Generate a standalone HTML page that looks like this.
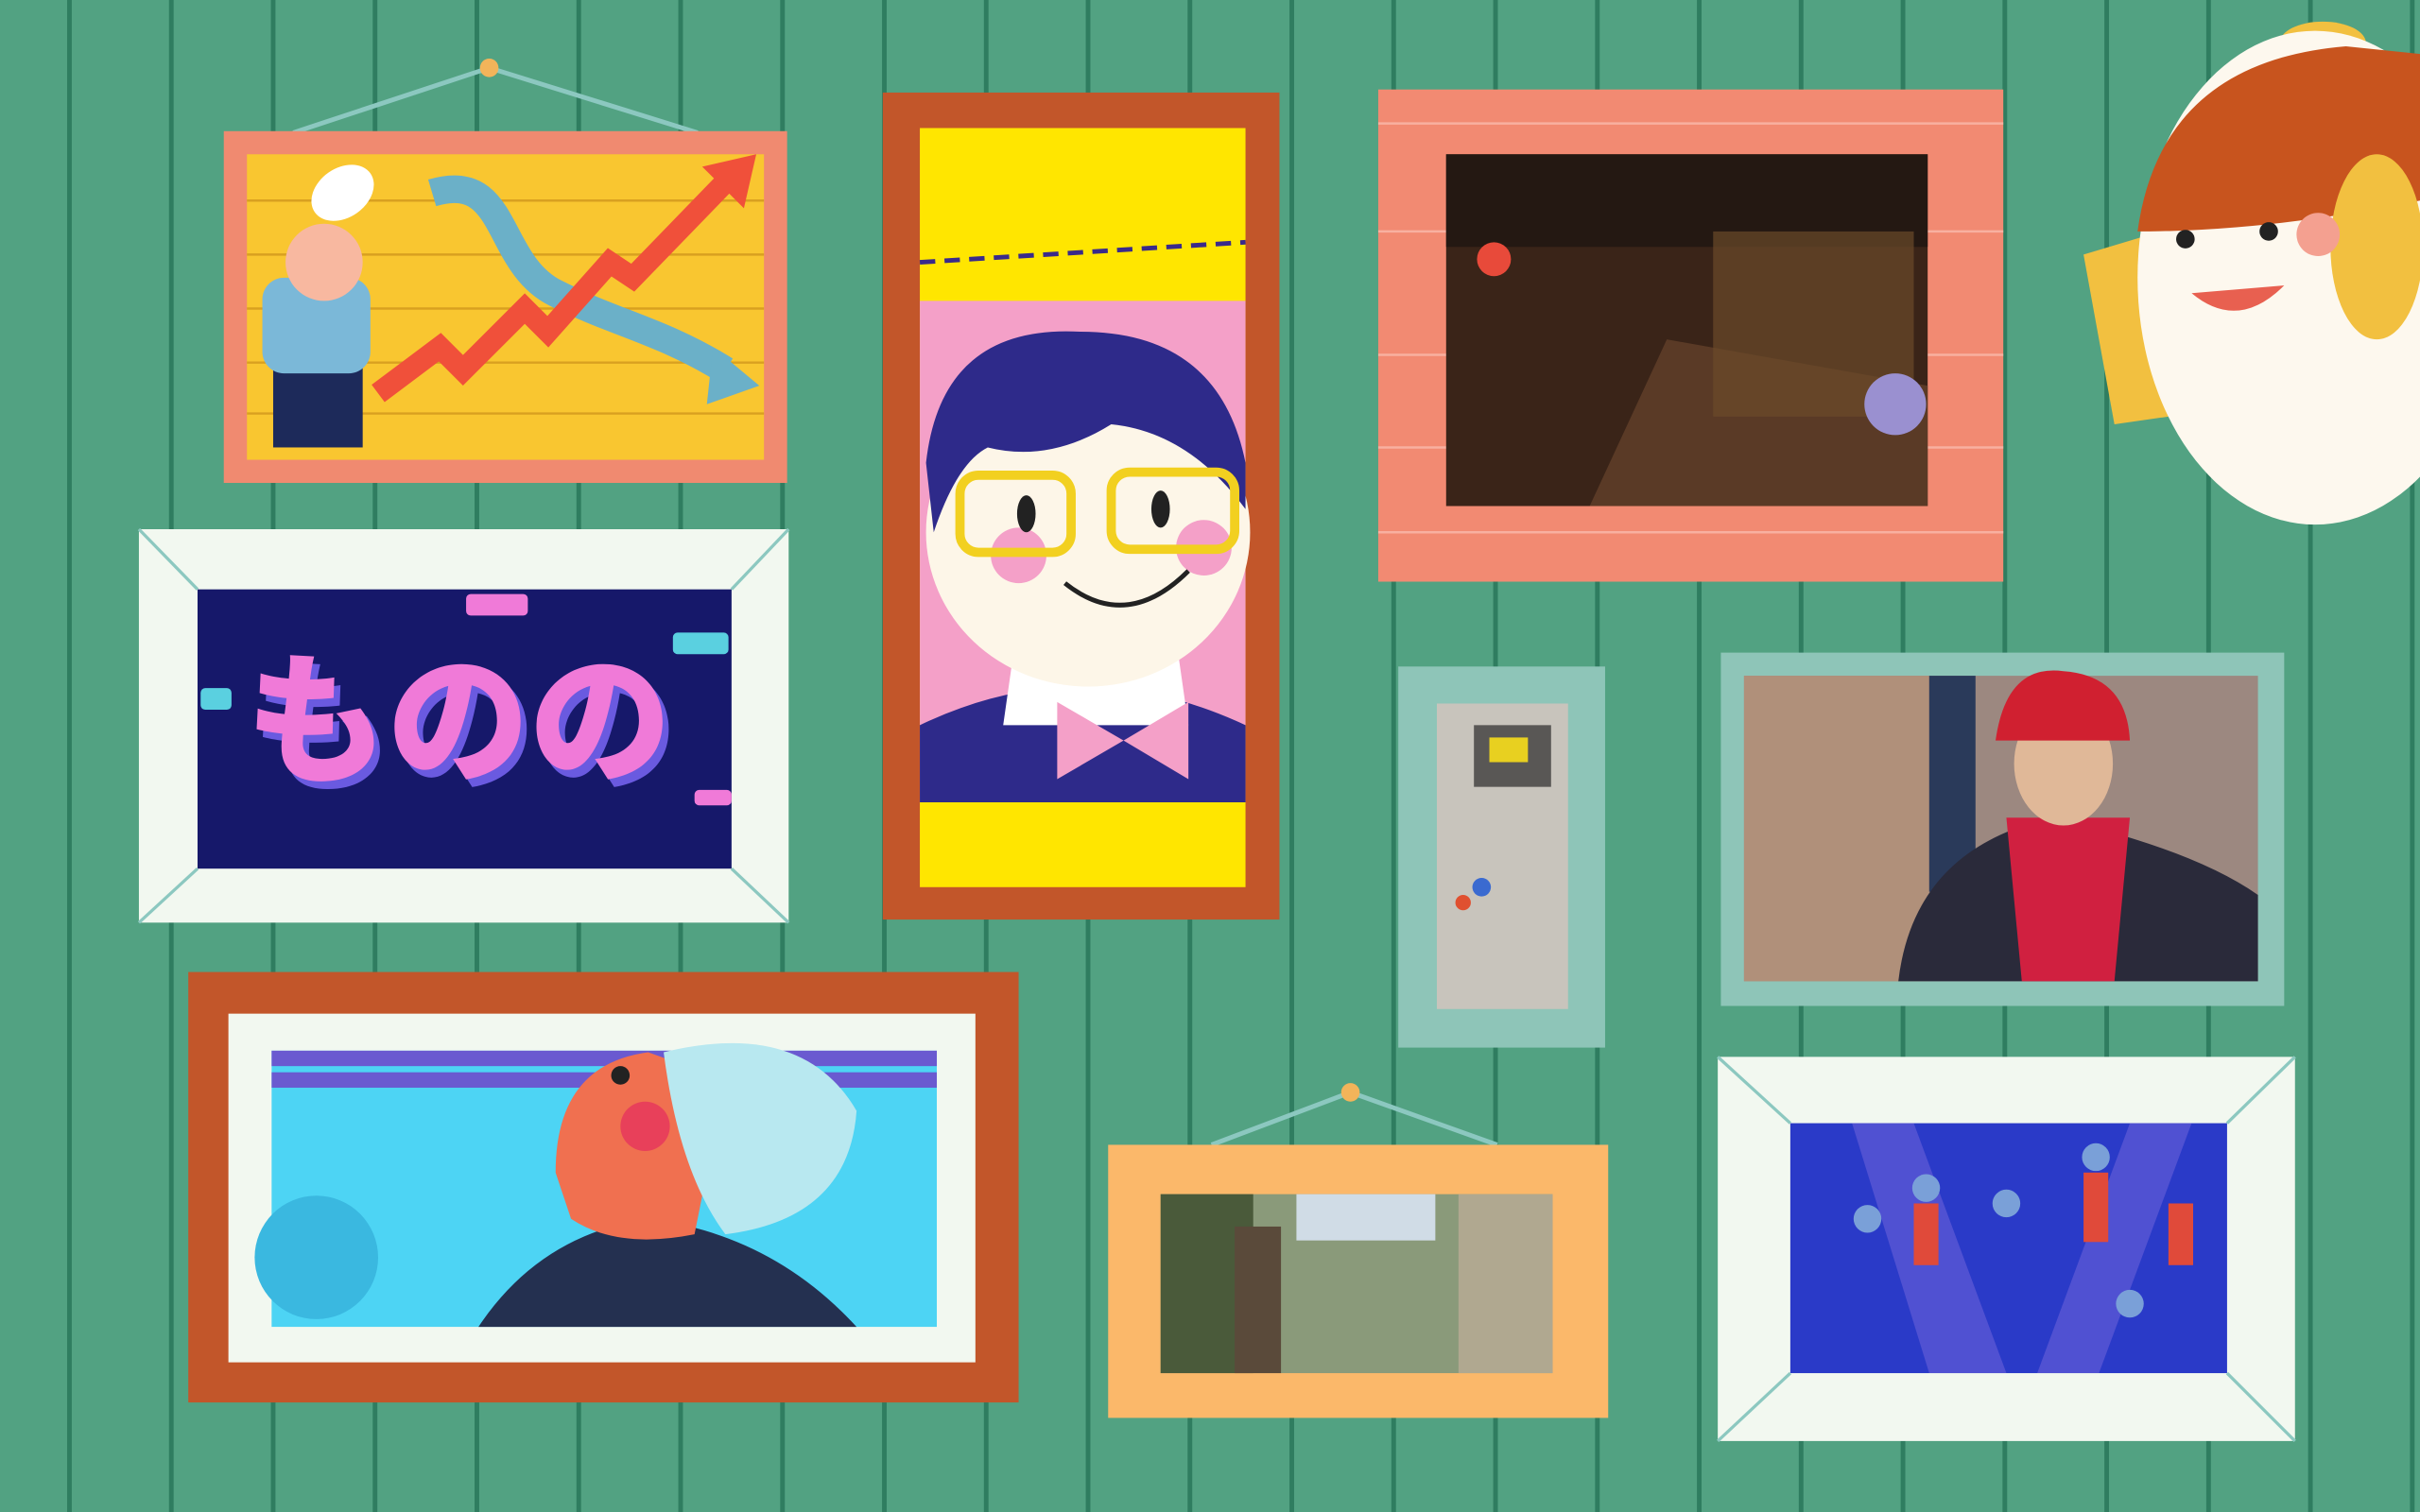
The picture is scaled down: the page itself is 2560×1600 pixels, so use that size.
<!DOCTYPE html>
<html><head><meta charset="utf-8"><style>
html,body{margin:0;padding:0;width:2560px;height:1600px;overflow:hidden;background:#52a282}
svg{display:block}
</style></head><body>
<svg width="2560" height="1600" viewBox="0 0 1568 980" preserveAspectRatio="none" xmlns="http://www.w3.org/2000/svg">
<rect x="0" y="0" width="1568" height="980" fill="#52a282"/>
<g id="planks" stroke="#2f7d60" stroke-width="3"></g>

<!-- Chart frame -->
<g>
<polyline points="190,86 317,44 452,86" fill="none" stroke="#8cc8c0" stroke-width="3"/>
<circle cx="317" cy="44" r="6" fill="#f2b45a"/>
<rect x="145" y="85" width="365" height="228" fill="#f08a70"/>
<rect x="160" y="100" width="335" height="198" fill="#f9c630"/>
<g stroke="#d9a020" stroke-width="1.5"><line x1="160" y1="130" x2="495" y2="130"/><line x1="160" y1="165" x2="495" y2="165"/><line x1="160" y1="200" x2="495" y2="200"/><line x1="160" y1="235" x2="495" y2="235"/><line x1="160" y1="268" x2="495" y2="268"/></g>
<path d="M280,125 C330,110 320,170 360,190 C400,210 430,215 470,240" fill="none" stroke="#6bb0c8" stroke-width="18"/>
<polygon points="462,225 492,250 458,262" fill="#6bb0c8"/>
<polyline points="245,255 285,225 300,240 340,200 355,215 395,170 410,180 470,118" fill="none" stroke="#f0503a" stroke-width="14"/>
<polygon points="455,108 490,100 482,135" fill="#f0503a"/>
<rect x="177" y="230" width="58" height="60" fill="#1d2a5a"/>
<rect x="170" y="180" width="70" height="62" rx="14" fill="#7bb8d8"/>
<circle cx="210" cy="170" r="25" fill="#f8b8a0"/>
<ellipse cx="222" cy="125" rx="22" ry="16" fill="#fff" transform="rotate(-35 222 125)"/>
</g>

<!-- Mono frame -->
<g>
<rect x="90" y="343" width="421" height="255" fill="#f2f8f0"/>
<g stroke="#8cc8c0" stroke-width="2"><line x1="90" y1="343" x2="128" y2="382"/><line x1="511" y1="343" x2="474" y2="382"/><line x1="90" y1="598" x2="128" y2="563"/><line x1="511" y1="598" x2="474" y2="563"/></g>
<rect x="128" y="382" width="346" height="181" fill="#16186a"/>
<text x="301" y="505" text-anchor="middle" font-family="'Liberation Sans','Noto Sans CJK JP',sans-serif" font-weight="900" font-size="92" fill="#6a5ae0">ものの</text>
<text x="297" y="500" text-anchor="middle" font-family="'Liberation Sans','Noto Sans CJK JP',sans-serif" font-weight="900" font-size="92" fill="#f07ad8">ものの</text>
<rect x="302" y="385" width="40" height="14" rx="3" fill="#f07ad8"/>
<rect x="436" y="410" width="36" height="14" rx="3" fill="#5ad0e0"/>
<rect x="130" y="446" width="20" height="14" rx="3" fill="#5ad0e0"/>
<rect x="450" y="512" width="24" height="10" rx="3" fill="#f07ad8"/>
</g>

<!-- Boy frame -->
<g>
<rect x="572" y="60" width="257" height="536" fill="#c2562a"/>
<rect x="596" y="83" width="211" height="492" fill="#ffe600"/>
<line x1="596" y1="170" x2="807" y2="157" stroke="#3a2a8a" stroke-width="3" stroke-dasharray="10 6"/>
<rect x="596" y="195" width="211" height="325" fill="#f4a0c8"/>
<path d="M596,520 L596,470 Q700,420 807,470 L807,520 Z" fill="#2e2a8a"/>
<path d="M660,400 Q700,460 760,400 L770,470 L650,470 Z" fill="#fff"/>
<polygon points="685,455 728,480 685,505" fill="#f4a0c8"/><polygon points="770,455 728,480 770,505" fill="#f4a0c8"/>
<ellipse cx="705" cy="345" rx="105" ry="100" fill="#fdf6e8"/>
<path d="M600,300 Q610,210 700,215 Q790,215 807,300 L807,330 Q770,280 720,275 Q680,300 640,290 Q620,300 605,345 Z" fill="#2e2a8a"/>
<circle cx="660" cy="360" r="18" fill="#f4a0c8"/><circle cx="780" cy="355" r="18" fill="#f4a0c8"/>
<rect x="622" y="308" width="72" height="50" rx="12" fill="none" stroke="#f2d020" stroke-width="6"/>
<rect x="720" y="306" width="80" height="50" rx="12" fill="none" stroke="#f2d020" stroke-width="6"/>
<ellipse cx="665" cy="333" rx="6" ry="12" fill="#222"/><ellipse cx="752" cy="330" rx="6" ry="12" fill="#222"/>
<path d="M690,378 Q730,410 770,370" fill="none" stroke="#222" stroke-width="3"/>
</g>

<!-- Bar photo -->
<g>
<rect x="893" y="58" width="405" height="319" fill="#f28a72"/>
<g stroke="#f8b0a0" stroke-width="1.5"><line x1="893" y1="80" x2="1298" y2="80"/><line x1="893" y1="150" x2="1298" y2="150"/><line x1="893" y1="230" x2="1298" y2="230"/><line x1="893" y1="290" x2="1298" y2="290"/><line x1="893" y1="345" x2="1298" y2="345"/></g>
<rect x="937" y="100" width="312" height="228" fill="#3a2418"/>
<rect x="937" y="100" width="312" height="60" fill="#241812"/>
<polygon points="1030,328 1080,220 1249,250 1249,328" fill="#5a3a26"/>
<rect x="1110" y="150" width="130" height="120" fill="#6b4a2a" opacity="0.7"/>
<circle cx="968" cy="168" r="11" fill="#e84a3a"/>
<circle cx="1228" cy="262" r="20" fill="#9a90d0"/>
</g>

<!-- Small abstract -->
<g>
<rect x="906" y="432" width="134" height="247" fill="#8ec5b8"/>
<rect x="931" y="456" width="85" height="198" fill="#c8c4bc"/>
<rect x="955" y="470" width="50" height="40" fill="#2a2a2a" opacity="0.7"/>
<rect x="965" y="478" width="25" height="16" fill="#e8d020"/>
<circle cx="960" cy="575" r="6" fill="#3a6ad0"/><circle cx="948" cy="585" r="5" fill="#e05030"/>
</g>

<!-- Man photo -->
<g>
<rect x="1115" y="423" width="365" height="229" fill="#8ec5b8"/>
<rect x="1130" y="438" width="333" height="198" fill="#9c8880"/>
<rect x="1130" y="438" width="120" height="198" fill="#b0907a"/>
<rect x="1250" y="438" width="30" height="140" fill="#2a3a5a"/>
<path d="M1230,636 Q1240,550 1330,530 Q1420,550 1463,580 L1463,636 Z" fill="#2a2a3a"/>
<path d="M1300,530 L1380,530 L1370,636 L1310,636 Z" fill="#d02040"/>
<ellipse cx="1337" cy="495" rx="32" ry="40" fill="#e0b898"/>
<path d="M1293,480 Q1300,430 1337,435 Q1378,438 1380,480 Z" fill="#d02030"/>
</g>

<!-- Whale frame -->
<g>
<rect x="122" y="630" width="538" height="279" fill="#c2562a"/>
<rect x="148" y="657" width="484" height="226" fill="#f2f8f0"/>
<rect x="176" y="681" width="431" height="179" fill="#4dd4f4"/>
<rect x="176" y="681" width="431" height="10" fill="#6a5ad0"/>
<rect x="176" y="695" width="431" height="10" fill="#6a5ad0"/>
<ellipse cx="205" cy="815" rx="40" ry="40" fill="#3ab8e0"/>
<path d="M310,860 Q350,800 420,790 Q500,800 555,860 Z" fill="#243050"/>
<path d="M360,760 Q360,690 420,682 L470,700 L450,800 Q400,810 370,790 Z" fill="#f07050"/>
<path d="M430,682 Q520,660 555,720 Q550,790 470,800 Q440,760 430,682 Z" fill="#b8e8f0"/>
<circle cx="418" cy="730" r="16" fill="#e8405a"/>
<circle cx="402" cy="697" r="6" fill="#222"/>
</g>

<!-- Street photo -->
<g>
<polyline points="785,742 875,708 970,742" fill="none" stroke="#8cc8c0" stroke-width="3"/>
<circle cx="875" cy="708" r="6" fill="#f2b45a"/>
<rect x="718" y="742" width="324" height="177" fill="#fbb86a"/>
<rect x="752" y="774" width="254" height="116" fill="#8a9a7a"/>
<rect x="752" y="774" width="60" height="116" fill="#4a5a3a"/>
<rect x="945" y="774" width="61" height="116" fill="#b0a890"/>
<rect x="840" y="774" width="90" height="30" fill="#d0dce6"/>
<rect x="800" y="795" width="30" height="95" fill="#5a4a3a"/>
</g>

<!-- Dance frame -->
<g>
<rect x="1113" y="685" width="374" height="249" fill="#f2f8f0"/>
<g stroke="#8cc8c0" stroke-width="2"><line x1="1113" y1="685" x2="1160" y2="728"/><line x1="1487" y1="685" x2="1443" y2="728"/><line x1="1113" y1="934" x2="1160" y2="890"/><line x1="1487" y1="934" x2="1443" y2="890"/></g>
<rect x="1160" y="728" width="283" height="162" fill="#2a3ac8"/>
<polygon points="1200,728 1240,728 1300,890 1250,890" fill="#6a60d8" opacity="0.6"/>
<polygon points="1380,728 1420,728 1360,890 1320,890" fill="#6a60d8" opacity="0.6"/>
<g fill="#e04a3a"><rect x="1240" y="780" width="16" height="40"/><rect x="1350" y="760" width="16" height="45"/><rect x="1405" y="780" width="16" height="40"/></g>
<g fill="#7aa0d8"><circle cx="1248" cy="770" r="9"/><circle cx="1358" cy="750" r="9"/><circle cx="1300" cy="780" r="9"/><circle cx="1210" cy="790" r="9"/><circle cx="1380" cy="845" r="9"/></g>
</g>

<!-- Fish -->
<g>
<ellipse cx="1505" cy="28" rx="28" ry="14" fill="#f2c040"/>
<polygon points="1350,165 1400,150 1405,270 1370,275" fill="#f2c040"/>
<ellipse cx="1500" cy="180" rx="115" ry="160" fill="#fdf8ee"/>
<path d="M1385,150 Q1400,40 1520,30 L1568,35 L1568,130 Q1470,150 1385,150 Z" fill="#c8541e"/>
<ellipse cx="1540" cy="160" rx="30" ry="60" fill="#f2c040"/>
<circle cx="1416" cy="155" r="6" fill="#222"/><circle cx="1470" cy="150" r="6" fill="#222"/>
<circle cx="1502" cy="152" r="14" fill="#f4a090"/>
<path d="M1420,190 Q1450,215 1480,185 Z" fill="#e86050"/>
</g>
</svg>
<script>
var g=document.getElementById('planks');
for(var x=45;x<1568;x+=66){
var l=document.createElementNS('http://www.w3.org/2000/svg','line');


l.setAttribute('x1',x);l.setAttribute('x2',x);l.setAttribute('y1',0);l.setAttribute('y2',980);
g.appendChild(l);}
</script>
</body></html>
